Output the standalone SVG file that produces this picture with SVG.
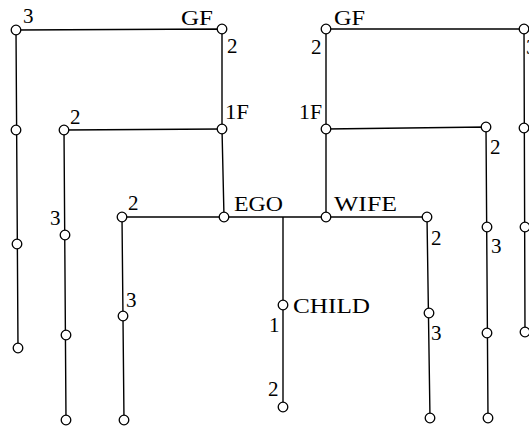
<svg xmlns="http://www.w3.org/2000/svg" width="529" height="429" viewBox="0 0 529 429">
<style>
.e{stroke:#000;stroke-width:1.4;fill:none}
.n{fill:#fff;stroke:#000;stroke-width:1.3}
.t{font-family:"Liberation Serif","Times New Roman",serif;font-size:21px;fill:#000}
</style>
<rect width="529" height="429" fill="#fff"/>
<g id="connectors">
<polyline class="e" points="18,348 16,30 222,29 222,129 224,217"/>
<polyline class="e" points="66,420 64,130 222,129"/>
<polyline class="e" points="124,420 122,217 427,217 430,418"/>
<line class="e" x1="283" y1="217" x2="283" y2="407"/>
<polyline class="e" points="326,217 326,129 326,29 524,29 525,332"/>
<polyline class="e" points="326,129 486,127 488,418"/>
</g>
<g id="n_gf_l"><circle class="n" cx="222" cy="29" r="4.8"/><text class="t" x="181" y="25" textLength="32" lengthAdjust="spacingAndGlyphs">GF</text><text class="t" x="227" y="53">2</text></g>
<g id="n_a"><circle class="n" cx="16" cy="30" r="4.8"/><text class="t" x="23" y="23">3</text></g>
<g id="n_a2"><circle class="n" cx="16" cy="130" r="4.8"/></g>
<g id="n_a3"><circle class="n" cx="17" cy="244" r="4.8"/></g>
<g id="n_a4"><circle class="n" cx="18" cy="348" r="4.8"/></g>
<g id="n_1f_l"><circle class="n" cx="222" cy="129" r="4.8"/><text class="t" x="225" y="119" textLength="24" lengthAdjust="spacingAndGlyphs">1F</text></g>
<g id="n_b"><circle class="n" cx="64" cy="130" r="4.8"/><text class="t" x="70" y="124">2</text></g>
<g id="n_b2"><circle class="n" cx="65" cy="235" r="4.8"/><text class="t" x="50" y="225">3</text></g>
<g id="n_b3"><circle class="n" cx="66" cy="335" r="4.8"/></g>
<g id="n_b4"><circle class="n" cx="66" cy="420" r="4.8"/></g>
<g id="n_c"><circle class="n" cx="122" cy="217" r="4.8"/><text class="t" x="128" y="210">2</text></g>
<g id="n_c2"><circle class="n" cx="123" cy="316" r="4.8"/><text class="t" x="126" y="307">3</text></g>
<g id="n_c3"><circle class="n" cx="124" cy="420" r="4.8"/></g>
<g id="n_ego"><circle class="n" cx="224" cy="217" r="4.8"/><text class="t" x="234" y="211" textLength="49" lengthAdjust="spacingAndGlyphs">EGO</text></g>
<g id="n_wife"><circle class="n" cx="326" cy="217" r="4.8"/><text class="t" x="334" y="211" textLength="63" lengthAdjust="spacingAndGlyphs">WIFE</text></g>
<g id="n_child"><circle class="n" cx="283" cy="305" r="4.8"/><text class="t" x="293" y="313" textLength="77" lengthAdjust="spacingAndGlyphs">CHILD</text><text class="t" x="269" y="332">1</text></g>
<g id="n_child2"><circle class="n" cx="283" cy="407" r="4.8"/><text class="t" x="268" y="396">2</text></g>
<g id="n_d"><circle class="n" cx="427" cy="217" r="4.8"/><text class="t" x="431" y="245">2</text></g>
<g id="n_d2"><circle class="n" cx="429" cy="313" r="4.8"/><text class="t" x="431" y="340">3</text></g>
<g id="n_d3"><circle class="n" cx="430" cy="418" r="4.8"/></g>
<g id="n_gf_r"><circle class="n" cx="326" cy="29" r="4.8"/><text class="t" x="334" y="25" textLength="31" lengthAdjust="spacingAndGlyphs">GF</text><text class="t" x="311" y="54">2</text></g>
<g id="n_1f_r"><circle class="n" cx="326" cy="129" r="4.8"/><text class="t" x="299" y="119" textLength="23" lengthAdjust="spacingAndGlyphs">1F</text></g>
<g id="n_e"><circle class="n" cx="486" cy="127" r="4.8"/><text class="t" x="490" y="154">2</text></g>
<g id="n_e2"><circle class="n" cx="487" cy="227" r="4.8"/><text class="t" x="491" y="253">3</text></g>
<g id="n_e3"><circle class="n" cx="487" cy="333" r="4.8"/></g>
<g id="n_e4"><circle class="n" cx="488" cy="418" r="4.8"/></g>
<g id="n_f"><circle class="n" cx="524" cy="29" r="4.8"/><text class="t" x="526" y="54">3</text></g>
<g id="n_f2"><circle class="n" cx="524" cy="128" r="4.8"/></g>
<g id="n_f3"><circle class="n" cx="525" cy="227" r="4.8"/></g>
<g id="n_f4"><circle class="n" cx="525" cy="332" r="4.8"/></g>
</svg>
